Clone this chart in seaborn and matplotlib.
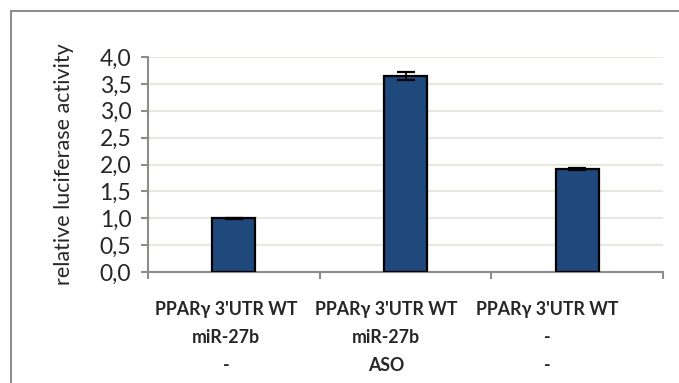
import matplotlib
matplotlib.use("Agg")
import matplotlib.pyplot as plt
from matplotlib.lines import Line2D
import numpy as np
import pandas as pd
import seaborn as sns

# Luciferase reporter data
construct = ["PPARγ 3'UTR WT", "PPARγ 3'UTR WT", "PPARγ 3'UTR WT"]
mirna = ["miR-27b", "miR-27b", "-"]
aso = ["-", "ASO", "-"]
activity = [1.0, 3.65, 1.91]
activity_err = [0.01, 0.075, 0.02]
yticks = [0.0, 0.5, 1.0, 1.5, 2.0, 2.5, 3.0, 3.5, 4.0]

labels = ["\n".join(t) for t in zip(construct, mirna, aso)]
df = pd.DataFrame({"group": [f"g{i}" for i in range(len(activity))],
                   "activity": activity})

sns.set_theme(style="white")
plt.rcParams["font.family"] = ["Lato", "DejaVu Sans"]

W, H = 679, 383
fig = plt.figure(figsize=(W / 100, H / 100), dpi=100)
fig.patch.set_edgecolor("none")
fig.patch.set_linewidth(0)
ax = fig.add_axes([148 / W, 1 - 272 / H, (663 - 148) / W, (272 - 57) / H])

grid_c = "#EAE7DC"
axis_c = "#8C8C8C"

sns.barplot(data=df, x="group", y="activity", ax=ax, color="#1F497D",
            width=0.25, edgecolor="black", linewidth=1.6, errorbar=None,
            saturation=1, zorder=3)
xpos = np.arange(len(activity))
ax.errorbar(xpos, activity, yerr=activity_err, fmt="none", ecolor="black",
            elinewidth=1.3, capsize=6.5, capthick=1.6, zorder=4)

ax.set_xlim(-0.5, len(activity) - 0.5)
ax.set_ylim(0, 4.0)
ax.set_yticks(yticks)
ax.set_yticklabels([f"{v:.1f}".replace(".", ",") for v in yticks], fontsize=16.5)
ax.yaxis.grid(True, color=grid_c, linewidth=1.5, zorder=0)
ax.set_axisbelow(True)

# category boundary ticks on x, labels written separately
ax.set_xticks(np.arange(-0.5, len(activity), 1.0))
ax.set_xticklabels([])
ax.tick_params(axis="x", direction="out", length=5, width=1.5, color=axis_c,
               bottom=True)
ax.tick_params(axis="y", direction="out", length=5, width=1.5, color=axis_c,
               left=True, pad=7)
ax.set_xlabel("")
ax.set_ylabel("relative luciferase activity", fontsize=15.5, va="center")
ax.yaxis.set_label_coords(-0.163, 0.5)

for side in ["top", "right"]:
    ax.spines[side].set_visible(False)
for side in ["left", "bottom"]:
    ax.spines[side].set_color(axis_c)
    ax.spines[side].set_linewidth(1.5)

label_x = [-0.046, 0.886, 1.824]
for x, lab in zip(label_x, labels):
    ax.text(x, -0.133, lab, transform=ax.get_xaxis_transform(),
            ha="center", va="top", fontsize=12.8, fontweight="bold",
            linespacing=1.8)

# chart frame (top and left edges)
frame_kw = dict(transform=fig.transFigure, color="#8E8E8E", linewidth=1.5)
fig.add_artist(Line2D([11 / W, 1.0], [1 - 10.5 / H, 1 - 10.5 / H], **frame_kw))
fig.add_artist(Line2D([11 / W, 11 / W], [0.0, 1 - 10.5 / H], **frame_kw))

fig.savefig("out.png", dpi=100)
